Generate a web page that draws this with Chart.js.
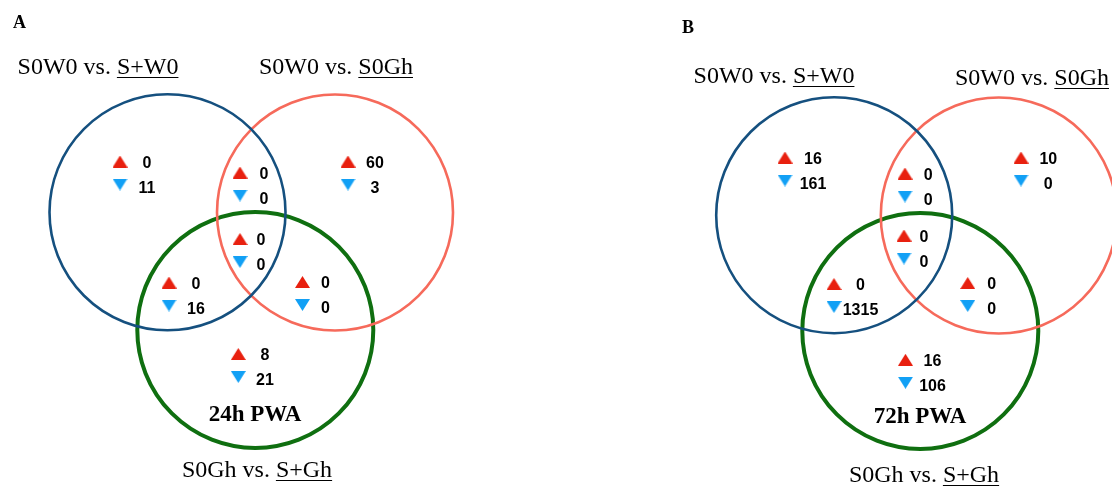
<!DOCTYPE html>
<html>
<head>
<meta charset="utf-8">
<script src="https://cdn.jsdelivr.net/npm/chart.js@4"></script>
<style>
  body { margin: 0; background: #fff; }
  canvas { display: block; }
</style>
</head>
<body>
<canvas id="venn" width="1112" height="486"></canvas>
<script>
// data
const panels = ["A", "B"];
const timepoints = ["24h PWA", "72h PWA"];
const comparisons = [["S0W0 vs. ", "S+W0"], ["S0W0 vs. ", "S0Gh"], ["S0Gh vs. ", "S+Gh"]];
const regions = ["S+W0 only", "S+W0 & S0Gh", "all three", "S0Gh only", "S+W0 & S+Gh", "S0Gh & S+Gh", "S+Gh only"];
const up24 = [0, 0, 0, 60, 0, 0, 8];
const down24 = [11, 0, 0, 3, 16, 0, 21];
const up72 = [16, 0, 0, 10, 0, 0, 16];
const down72 = [161, 0, 0, 0, 1315, 0, 106];
const upCounts = [up24, up72];
const downCounts = [down24, down72];

// layout, in pixels (y goes down)
const circleCenters = [
  [[167.5, 212.3], [335, 212.5], [255.3, 330]],
  [[834.2, 215.2], [998.8, 215.5], [920.3, 331]],
];
const circleColors = ["#15507f", "#f66a5b", "#0f6f10"];
const circleWidths = [2.6, 2.6, 4];
// [triangle x, up triangle y, count x] for each region
const regionPos = [
  [[120, 161.5, 147], [240, 172.5, 264], [240, 239, 261], [348, 161.5, 375], [169, 282.5, 196], [302.5, 282, 325.5], [238.3, 354, 265]],
  [[785, 157.5, 813], [905, 173.5, 928.3], [904, 235.5, 924], [1021, 157.5, 1048.3], [834, 284, 860.5], [967.7, 283, 991.7], [905.5, 359.8, 932.5]],
];
const labelPos = [
  { panel: [13, 28.3], sets: [[98, 74], [336, 74], [257, 476.5]], time: [255, 420.5] },
  { panel: [682, 33.3], sets: [[774, 82.5], [1032, 85], [924, 481.5]], time: [920, 422.5] },
];

function triangle(color, pointingUp) {
  const c = document.createElement("canvas");
  c.width = 15;
  c.height = 12;
  const g = c.getContext("2d");
  g.fillStyle = color;
  g.beginPath();
  if (pointingUp) {
    g.moveTo(7.5, 0); g.lineTo(15, 12); g.lineTo(0, 12);
  } else {
    g.moveTo(0, 0); g.lineTo(15, 0); g.lineTo(7.5, 12);
  }
  g.closePath();
  g.fill();
  return c;
}

const circleSets = comparisons.map((c, k) => ({
  label: c.join(""),
  data: panels.map((p, i) => ({ x: circleCenters[i][k][0], y: circleCenters[i][k][1] })),
  pointRadius: 118,
  pointHoverRadius: 118,
  pointBorderWidth: circleWidths[k],
  pointHoverBorderWidth: circleWidths[k],
  pointBorderColor: circleColors[k],
  pointBackgroundColor: "rgba(0,0,0,0)",
  clip: false,
  order: 2,
}));

const upPoints = [];
const downPoints = [];
panels.forEach((p, i) => {
  regions.forEach((r, j) => {
    const [tx, ty] = regionPos[i][j];
    upPoints.push({ x: tx, y: ty, n: upCounts[i][j] });
    downPoints.push({ x: tx, y: ty + 23, n: downCounts[i][j] });
  });
});

const vennText = {
  id: "vennText",
  afterDatasetsDraw(chart) {
    const { ctx, scales: { x, y } } = chart;
    ctx.save();
    ctx.fillStyle = "#000";
    ctx.strokeStyle = "#000";
    ctx.lineWidth = 1;
    panels.forEach((p, i) => {
      // counts
      ctx.font = "bold 16px 'Liberation Sans', Arial, sans-serif";
      ctx.textAlign = "center";
      ctx.textBaseline = "alphabetic";
      regions.forEach((r, j) => {
        const [tx, ty, cx] = regionPos[i][j];
        ctx.fillText(String(upCounts[i][j]), x.getPixelForValue(cx), y.getPixelForValue(ty + 6.3));
        ctx.fillText(String(downCounts[i][j]), x.getPixelForValue(cx), y.getPixelForValue(ty + 31));
      });
      // panel letter
      const L = labelPos[i];
      ctx.textAlign = "left";
      ctx.font = "bold 18px 'Liberation Serif', 'Times New Roman', serif";
      ctx.fillText(p, x.getPixelForValue(L.panel[0]), y.getPixelForValue(L.panel[1]));
      // time point
      ctx.textAlign = "center";
      ctx.font = "bold 23px 'Liberation Serif', 'Times New Roman', serif";
      ctx.fillText(timepoints[i], x.getPixelForValue(L.time[0]), y.getPixelForValue(L.time[1]));
      // comparison labels, second part underlined
      ctx.font = "24px 'Liberation Serif', 'Times New Roman', serif";
      ctx.textAlign = "left";
      comparisons.forEach((c, k) => {
        const w1 = ctx.measureText(c[0]).width;
        const w2 = ctx.measureText(c[1]).width;
        const left = x.getPixelForValue(L.sets[k][0]) - (w1 + w2) / 2;
        const base = y.getPixelForValue(L.sets[k][1]);
        ctx.fillText(c[0], left, base);
        ctx.fillText(c[1], left + w1, base);
        ctx.beginPath();
        ctx.moveTo(left + w1, Math.round(base + 3) + 0.5);
        ctx.lineTo(left + w1 + w2, Math.round(base + 3) + 0.5);
        ctx.stroke();
      });
    });
    ctx.restore();
  },
};

new Chart(document.getElementById("venn"), {
  type: "scatter",
  data: {
    datasets: [
      {
        label: "up",
        data: upPoints,
        pointStyle: triangle("#e8200f", true),
        order: 0,
      },
      {
        label: "down",
        data: downPoints,
        pointStyle: triangle("#12a0f5", false),
        order: 1,
      },
      ...circleSets,
    ],
  },
  options: {
    responsive: false,
    animation: false,
    events: [],
    layout: { padding: 0, autoPadding: false },
    plugins: { legend: { display: false }, tooltip: { enabled: false } },
    scales: {
      x: { type: "linear", min: 0, max: 1112, display: false },
      y: { type: "linear", min: 0, max: 486, reverse: true, display: false },
    },
  },
  plugins: [vennText],
});
</script>
</body>
</html>
